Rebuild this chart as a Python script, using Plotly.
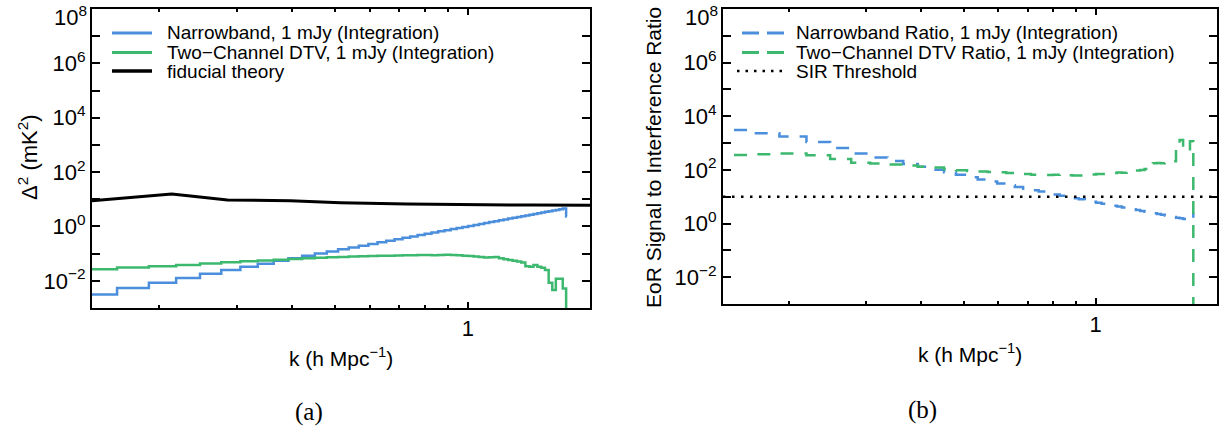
import math
import plotly.graph_objects as go

W, H = 1224, 438

# k bins (h Mpc^-1): left edges of the 53 bins plus the final right edge
k_edges = [0.132, 0.161, 0.190, 0.219, 0.248, 0.277, 0.306, 0.335, 0.364, 0.393,
           0.422, 0.451, 0.480, 0.509, 0.538, 0.567, 0.596, 0.625, 0.654, 0.683,
           0.712, 0.741, 0.770, 0.799, 0.828, 0.857, 0.886, 0.915, 0.944, 0.973,
           1.002, 1.031, 1.060, 1.089, 1.118, 1.147, 1.176, 1.205, 1.234, 1.263,
           1.292, 1.321, 1.350, 1.379, 1.408, 1.437, 1.466, 1.495, 1.524, 1.553,
           1.582, 1.611, 1.640, 1.669]
k_tail = 1.675

# Interference power spectra, Delta^2 (mK^2), one value per bin
narrowband_d2 = [0.00314, 0.00541, 0.00855, 0.0127, 0.0181, 0.0248, 0.0329, 0.0427, 0.0542, 0.0677,
                 0.0832, 0.101, 0.121, 0.1435, 0.169, 0.197, 0.2275, 0.2615, 0.299, 0.339,
                 0.383, 0.431, 0.483, 0.538, 0.598, 0.662, 0.730, 0.803, 0.881, 0.963,
                 1.050, 1.143, 1.241, 1.344, 1.453, 1.567, 1.687, 1.814, 1.946, 2.085,
                 2.230, 2.382, 2.541, 2.706, 2.878, 3.058, 3.245, 3.440, 3.642, 3.851,
                 4.069, 4.295, 4.529]
narrowband_tail = 2.3

dtv_d2 = [0.0265, 0.031, 0.034, 0.038, 0.043, 0.048, 0.052, 0.056, 0.060, 0.064,
          0.068, 0.071, 0.074, 0.076, 0.078, 0.080, 0.081, 0.083, 0.084, 0.085,
          0.087, 0.088, 0.090, 0.089, 0.088, 0.089, 0.091, 0.090, 0.087, 0.084,
          0.082, 0.078, 0.075, 0.072, 0.074, 0.075, 0.068, 0.062, 0.058, 0.055,
          0.051, 0.047, 0.034, 0.033, 0.038, 0.033, 0.030, 0.025, 0.0085, 0.0046,
          0.0118, 0.0118, 0.0052]
dtv_tail = 1e-6

# Fiducial EoR theory curve
k_theory = [0.1413, 0.214, 0.236, 0.271, 0.286, 0.397, 0.515, 0.73, 1.0, 1.4, 1.89]
d2_theory = [8.9, 15.6, 13.2, 10.2, 9.4, 8.9, 7.5, 6.7, 6.3, 6.1, 6.0]

# Signal-to-interference ratios, one value per bin
narrowband_ratio = [3085, 2313, 1777, 1100, 663, 412, 289, 215, 166, 130,
                    102, 81.3, 65.3, 53.0, 43.9, 36.9, 31.2, 26.8, 23.1, 20.0,
                    17.6, 15.5, 13.7, 12.2, 10.9, 9.74, 8.76, 7.97, 7.21, 6.54,
                    6.00, 5.50, 5.05, 4.65, 4.29, 3.97, 3.67, 3.41, 3.18, 2.95,
                    2.76, 2.58, 2.41, 2.26, 2.12, 1.99, 1.87, 1.76, 1.66, 1.57,
                    1.48, 1.40, 1.33]
narrowband_ratio_tail = 2.6

dtv_ratio = [360, 382, 410, 350, 255, 186, 174, 160, 145, 132,
             123, 106, 98, 92, 87, 84, 81, 77, 74, 70,
             66, 65, 65, 66, 68, 63, 62, 62, 63, 67,
             70, 71, 72, 76, 80, 78, 84, 88, 95, 100,
             108, 120, 176, 180, 176, 178, 200, 210, 700, 1300,
             520, 520, 1160]
dtv_ratio_tail = 1e-6

sir_k = [0.1413, 1.89]
sir_threshold = [10, 10]

k_range = [0.1413, 1.89]
y_decades = [-3, 8]
y_tickvals = [10.0 ** p for p in range(-2, 9)]
# the top label (10^8) sits on the frame edge and is written separately
y_ticktext = [("10<sup>%s</sup>" % str(p).replace("-", "\u2212")) if (p % 2 == 0 and p < 8) else ""
              for p in range(-2, 9)]
y_top_label = "10<sup>8</sup>"
x_minor = [0.2, 0.3, 0.4, 0.5, 0.6, 0.7, 0.8, 0.9]

BLUE = "#4a8edc"
GREEN = "#3db86f"
FONT = "Liberation Sans"
TICK_SIZE = 22


def px(x):
    return x / W


def py(y):
    return 1 - y / H


def step(values, tail):
    xs = list(k_edges) + [k_tail]
    ys = list(values) + [tail, tail]
    return xs, ys


fig = go.Figure()

# (a) power spectra
xs, ys = step(narrowband_d2, narrowband_tail)
fig.add_trace(go.Scatter(x=xs, y=ys, mode="lines", line=dict(color=BLUE, width=2.5, shape="hv"),
                         xaxis="x", yaxis="y", showlegend=False))
xs, ys = step(dtv_d2, dtv_tail)
fig.add_trace(go.Scatter(x=xs[:-1], y=ys[:-1], mode="lines", line=dict(color=GREEN, width=2.5, shape="hv"),
                         xaxis="x", yaxis="y", showlegend=False))
fig.add_trace(go.Scatter(x=k_theory, y=d2_theory, mode="lines", line=dict(color="black", width=3),
                         xaxis="x", yaxis="y", showlegend=False))

# (b) ratios
DASH = "13px,11px"
xs, ys = step(narrowband_ratio, narrowband_ratio_tail)
fig.add_trace(go.Scatter(x=xs, y=ys, mode="lines",
                         line=dict(color=BLUE, width=2.5, shape="hv", dash=DASH),
                         xaxis="x2", yaxis="y2", showlegend=False))
xs, ys = step(dtv_ratio, dtv_ratio_tail)
fig.add_trace(go.Scatter(x=xs[:-1], y=ys[:-1], mode="lines",
                         line=dict(color=GREEN, width=2.5, shape="hv", dash=DASH),
                         xaxis="x2", yaxis="y2", showlegend=False))
fig.add_trace(go.Scatter(x=sir_k, y=sir_threshold, mode="lines",
                         line=dict(color="black", width=2.5, dash="2.5px,6.5px"),
                         xaxis="x2", yaxis="y2", showlegend=False))

tickfont = dict(family=FONT, size=TICK_SIZE, color="black")


def xaxis(domain, anchor):
    return dict(type="log", range=[math.log10(k_range[0]), math.log10(k_range[1])],
                domain=domain, anchor=anchor, showline=True, linecolor="black", linewidth=2,
                mirror="ticks", ticks="inside", ticklen=6, tickwidth=2, tickcolor="black",
                tickvals=[1], ticktext=["1"], tickfont=tickfont, showgrid=False, zeroline=False,
                minor=dict(tickvals=x_minor, ticks="inside", ticklen=3, tickwidth=1.5,
                           tickcolor="black", showgrid=False))


def yaxis(domain, anchor):
    return dict(type="log", range=y_decades, domain=domain, anchor=anchor,
                showline=True, linecolor="black", linewidth=2, mirror="ticks",
                ticks="inside", ticklen=8, tickwidth=2, tickcolor="black",
                tickvals=y_tickvals, ticktext=y_ticktext, tickfont=tickfont,
                showgrid=False, zeroline=False)


fig.update_layout(
    width=W, height=H, margin=dict(l=0, r=0, t=0, b=0),
    paper_bgcolor="white", plot_bgcolor="white",
    xaxis=xaxis([px(92), px(590)], "y"),
    yaxis=yaxis([py(308), py(9)], "x"),
    xaxis2=xaxis([px(723), px(1217)], "y2"),
    yaxis2=yaxis([py(304), py(9)], "x2"),
    showlegend=False,
)

annotations = []
shapes = []


def text(x, y, s, size=19, angle=0, xanchor="center", family=FONT, yanchor="middle"):
    annotations.append(dict(x=px(x), y=py(y), xref="paper", yref="paper", text=s,
                            showarrow=False, textangle=angle, xanchor=xanchor, yanchor=yanchor,
                            font=dict(family=family, size=size, color="black")))


def legend_line(x0, x1, y, color, width=3, dash="solid"):
    shapes.append(dict(type="line", xref="paper", yref="paper", x0=px(x0), x1=px(x1),
                       y0=py(y), y1=py(y), line=dict(color=color, width=width, dash=dash)))


# top y tick labels on the frame edge
text(89, 0, y_top_label, size=TICK_SIZE, xanchor="right", yanchor="top")
text(720, 0, y_top_label, size=TICK_SIZE, xanchor="right", yanchor="top")

# legend, panel (a)
rows = [33, 52.5, 71]
legend_line(112, 152, rows[0], BLUE)
legend_line(112, 152, rows[1], GREEN)
legend_line(112, 152, rows[2], "black", width=3.5)
text(165, rows[0], "Narrowband, 1 mJy (Integration)", xanchor="left")
text(165, rows[1], "Two\u2212Channel DTV, 1 mJy (Integration)", xanchor="left")
text(165, rows[2], "fiducial theory", xanchor="left")

# legend, panel (b)
legend_line(742, 784, rows[0], BLUE, width=3, dash="17px,8px")
legend_line(742, 784, rows[1], GREEN, width=3, dash="17px,8px")
legend_line(737, 784, rows[2], "black", width=2.5, dash="2.5px,6px")
text(794, rows[0], "Narrowband Ratio, 1 mJy (Integration)", xanchor="left")
text(794, rows[1], "Two\u2212Channel DTV Ratio, 1 mJy (Integration)", xanchor="left")
text(794, rows[2], "SIR Threshold", xanchor="left")

# axis titles
text(28, 157, "\u0394<sup>2</sup> (mK<sup>2</sup>)", size=22, angle=-90)
text(341, 357, "k (h Mpc<sup>\u22121</sup>)", size=21)
text(653, 158, "EoR Signal to Interference Ratio", size=21, angle=-90)
text(970, 353, "k (h Mpc<sup>\u22121</sup>)", size=21)

# panel captions
text(309, 412, "(a)", size=25, family="Liberation Serif")
text(922, 410, "(b)", size=25, family="Liberation Serif")

fig.update_layout(annotations=annotations, shapes=shapes)
fig.write_html("out.html")
